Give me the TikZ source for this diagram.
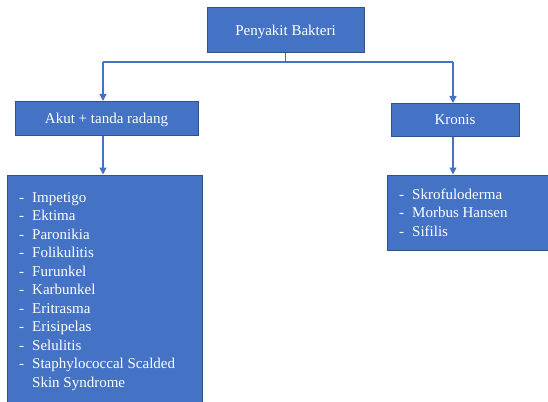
\documentclass[tikz,border=0pt]{standalone}
\usepackage{fontspec}
\setmainfont{Liberation Serif}
\usetikzlibrary{arrows.meta,calc}
\definecolor{boxblue}{HTML}{4472C4}
\definecolor{boxedge}{HTML}{2F528F}
\begin{document}
\begin{tikzpicture}[x=1pt,y=-1pt,
  box/.style={draw=boxedge,fill=boxblue,line width=1pt,inner sep=0pt,text=white,
    font=\fontsize{15}{18.5}\selectfont},
  lowtext/.style={text depth=0pt},
  listtext/.style={inner sep=0pt,text=white,anchor=base west},
  conn/.style={draw=boxblue,line width=1.3pt},
  arr/.style={conn,-{Triangle[width=7pt,length=7pt]}}]
\useasboundingbox (0,0) rectangle (548,401);
\clip (0,0) rectangle (548,401);
% boxes
\node[box,lowtext,minimum width=157pt,minimum height=45pt] (top) at (285.5,30.5) {Penyakit Bakteri};
\node[box,lowtext,minimum width=183pt,minimum height=33.5pt] (akut) at (106.5,118.25) {Akut + tanda radang};
\node[box,lowtext,minimum width=128pt,minimum height=33pt] (kronis) at (455,120) {Kronis};
\node[box,minimum width=195pt,minimum height=236pt,anchor=north west] (acutelist) at (7,174.5) {};
\node[box,minimum width=175pt,minimum height=75.5pt,anchor=north west] (chroniclist) at (386.5,174.5) {};
% list texts
\node[listtext] (acutetext) at (19,202) {\fontsize{15}{18.5}\selectfont
  \begin{tabular}[t]{@{}p{13pt}@{}l@{}}
  - & Impetigo\\
  - & Ektima\\
  - & Paronikia\\
  - & Folikulitis\\
  - & Furunkel\\
  - & Karbunkel\\
  - & Eritrasma\\
  - & Erisipelas\\
  - & Selulitis\\
  - & Staphylococcal Scalded\\
    & Skin Syndrome
  \end{tabular}};
\node[listtext] (chronictext) at (399,199.5) {\fontsize{15}{18.3}\selectfont
  \begin{tabular}[t]{@{}p{13pt}@{}l@{}}
  - & Skrofuloderma\\
  - & Morbus Hansen\\
  - & Sifilis
  \end{tabular}};
% connectors
\coordinate (jl) at (103,62);
\coordinate (jr) at (453,62);
\draw[conn] (top.south) |- (jl);
\draw[conn] (top.south) |- (jr);
\draw[arr] (jl) -- (jl |- akut.north);
\draw[arr] (jr) -- (jr |- kronis.north);
\draw[arr] (jl |- akut.south) -- (jl |- acutelist.north);
\draw[arr] (jr |- kronis.south) -- (jr |- chroniclist.north);
\end{tikzpicture}
\end{document}
